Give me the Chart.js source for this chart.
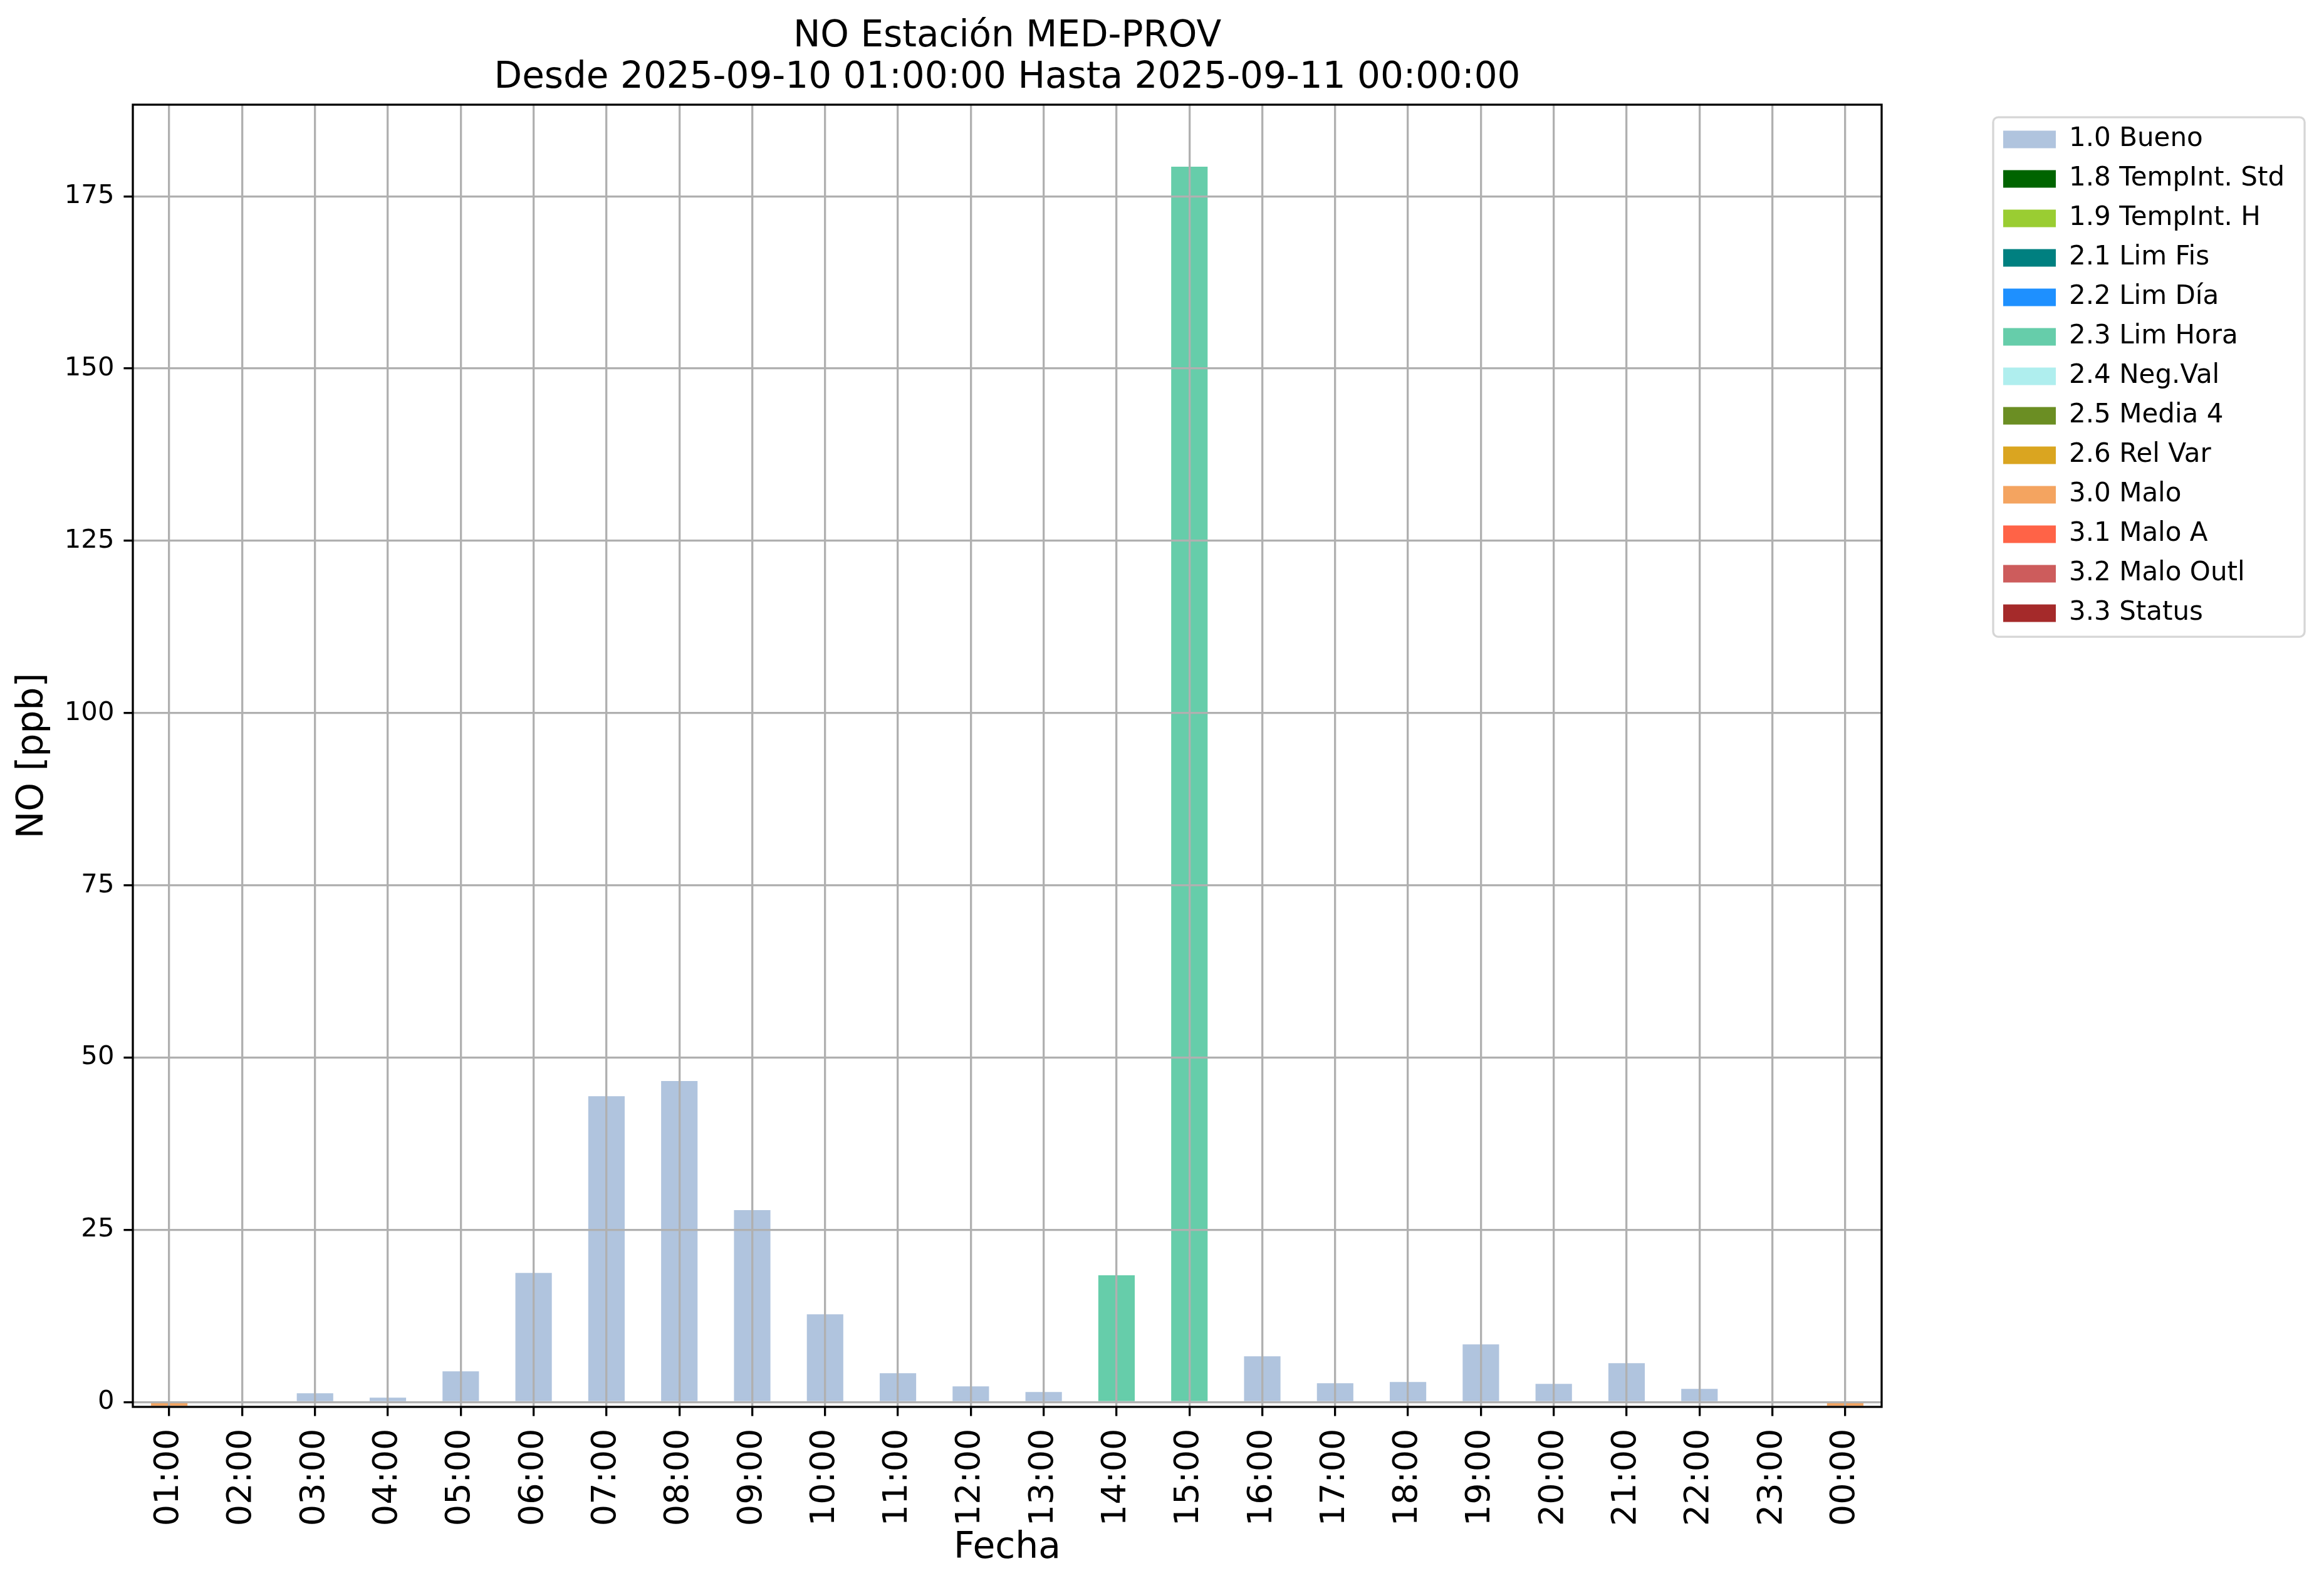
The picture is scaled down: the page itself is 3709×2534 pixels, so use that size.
<!DOCTYPE html>
<html>
<head>
<meta charset="utf-8">
<script src="https://cdn.jsdelivr.net/npm/chart.js@4/dist/chart.umd.min.js"></script>
<style>
  html, body { margin: 0; padding: 0; background: #fff; }
  #wrap { width: 3709px; height: 2534px; }
</style>
</head>
<body>
<div id="wrap"><canvas id="chart" width="3709" height="2534"></canvas></div>
<script>
// Hourly NO values, one array per quality flag
const horas = ['01:00', '02:00', '03:00', '04:00', '05:00', '06:00', '07:00', '08:00',
  '09:00', '10:00', '11:00', '12:00', '13:00', '14:00', '15:00', '16:00',
  '17:00', '18:00', '19:00', '20:00', '21:00', '22:00', '23:00', '00:00'];

const bueno = [null, null, 1.27, 0.64, 4.46, 18.75, 44.4, 46.6, 27.85, 12.74, 4.19, 2.28,
  1.46, null, null, 6.64, 2.73, 2.91, 8.37, 2.64, 5.64, 1.91, null, null];
const limHora = [null, null, null, null, null, null, null, null, null, null, null, null,
  null, 18.39, 179.3, null, null, null, null, null, null, null, null, null];
const malo = [-0.55, null, null, null, null, null, null, null, null, null, null, null,
  null, null, null, null, null, null, null, null, null, null, null, -0.55];
const sinDatos = [];

const flagNames = ['1.0 Bueno', '1.8 TempInt. Std', '1.9 TempInt. H', '2.1 Lim Fis', '2.2 Lim Día',
  '2.3 Lim Hora', '2.4 Neg.Val', '2.5 Media 4', '2.6 Rel Var', '3.0 Malo', '3.1 Malo A',
  '3.2 Malo Outl', '3.3 Status'];
const flagColors = ['#b0c4de', '#006400', '#9acd32', '#008080', '#1e90ff', '#66cdaa', '#afeeee',
  '#6b8e23', '#daa520', '#f4a460', '#ff6347', '#cd5c5c', '#a52a2a'];
const flagSeries = [bueno, sinDatos, sinDatos, sinDatos, sinDatos, limHora, sinDatos,
  sinDatos, sinDatos, malo, sinDatos, sinDatos, sinDatos];

const yTicks = [0, 25, 50, 75, 100, 125, 150, 175];
const yMin = -0.7;
const yMax = 188.3;

Chart.defaults.font.family = "'DejaVu Sans', sans-serif";
Chart.defaults.color = '#000';

const datasets = flagNames.map((name, i) => ({
  label: name,
  data: flagSeries[i],
  backgroundColor: flagColors[i],
  borderWidth: 0,
  barPercentage: 0.5,
  categoryPercentage: 1.0,
  stack: 'flags'
}));

// legend placement + frame, white background, axes box
const frameAndSpines = {
  id: 'frameAndSpines',
  afterUpdate(chart) {
    const lg = chart.legend;
    const area = chart.chartArea;
    lg.left = area.right + 173;
    lg.right = lg.left + lg.width;
    lg.top = area.top + 13.5;
    lg.bottom = lg.top + lg.height;
  },
  beforeDraw(chart) {
    const ctx = chart.ctx;
    const lg = chart.legend;
    ctx.save();
    ctx.fillStyle = '#ffffff';
    ctx.fillRect(0, 0, chart.width, chart.height);
    const col = lg.columnSizes[0];
    ctx.beginPath();
    ctx.roundRect(lg.left + 5, lg.top + 6.5, col.width + 48, col.height + 10, 8);
    ctx.fillStyle = 'rgba(255,255,255,0.8)';
    ctx.fill();
    ctx.lineWidth = 3.3;
    ctx.strokeStyle = '#d6d6d6';
    ctx.stroke();
    ctx.restore();
  },
  afterDraw(chart) {
    const {ctx, chartArea} = chart;
    ctx.save();
    ctx.lineWidth = 3.3;
    ctx.strokeStyle = '#000';
    ctx.strokeRect(chartArea.left, chartArea.top, chartArea.right - chartArea.left, chartArea.bottom - chartArea.top);
    ctx.restore();
  }
};

new Chart(document.getElementById('chart').getContext('2d'), {
  type: 'bar',
  data: {
    labels: horas,
    datasets: datasets
  },
  options: {
    responsive: false,
    animation: false,
    devicePixelRatio: 1,
    layout: {
      padding: { left: 0, top: 0, right: 706, bottom: 0 }
    },
    plugins: {
      title: {
        display: true,
        fullSize: false,
        text: ['NO Estación MED-PROV', 'Desde 2025-09-10 01:00:00 Hasta 2025-09-11 00:00:00'],
        color: '#000',
        font: { size: 58, weight: 'normal', lineHeight: 1.14 },
        padding: { top: 26, bottom: 8.8 }
      },
      legend: {
        display: true,
        position: 'chartArea',
        align: 'start',
        labels: {
          boxWidth: 84,
          boxHeight: 28,
          padding: 21,
          color: '#000',
          font: { size: 42 }
        }
      },
      tooltip: { enabled: false }
    },
    scales: {
      x: {
        stacked: true,
        offset: true,
        grid: {
          display: true,
          offset: false,
          color: '#b0b0b0',
          lineWidth: 3.3,
          drawTicks: true,
          tickLength: 14.6,
          tickColor: '#000',
          tickWidth: 3.3,
          z: 1
        },
        border: { display: false },
        ticks: {
          autoSkip: false,
          maxRotation: 90,
          minRotation: 90,
          padding: 20,
          color: '#000',
          font: { size: 54 }
        },
        title: {
          display: true,
          text: 'Fecha',
          color: '#000',
          font: { size: 58.3 },
          padding: { top: 0, bottom: 28 }
        },
        afterFit(scale) { scale.height = 289; }
      },
      y: {
        stacked: true,
        min: yMin,
        max: yMax,
        grid: {
          display: true,
          color: '#b0b0b0',
          lineWidth: 3.3,
          drawTicks: true,
          tickLength: 14.6,
          tickColor: '#000',
          tickWidth: 3.3,
          z: 1
        },
        border: { display: false },
        ticks: {
          padding: 15,
          color: '#000',
          font: { size: 41.7 },
          callback: (v) => String(v)
        },
        afterBuildTicks(scale) {
          scale.ticks = yTicks.map(v => ({ value: v }));
        },
        title: {
          display: true,
          text: 'NO [ppb]',
          color: '#000',
          font: { size: 58.3 },
          padding: { top: 18, bottom: 0 }
        },
        afterFit(scale) { scale.width = 212; }
      }
    }
  },
  plugins: [frameAndSpines]
});
</script>
</body>
</html>
